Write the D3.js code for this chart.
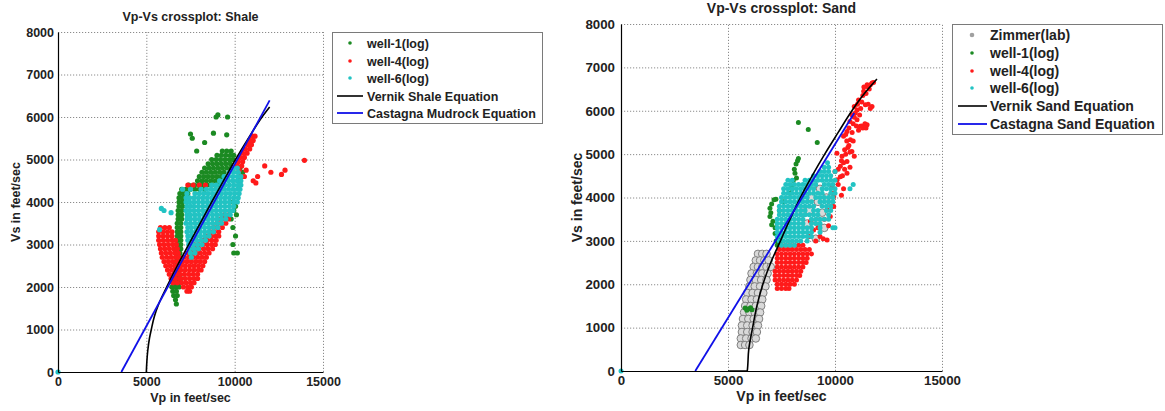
<!DOCTYPE html>
<html><head><meta charset="utf-8">
<script src="https://cdn.jsdelivr.net/npm/d3@7"></script>
<style>
body{margin:0;background:#fff;}
text{font-family:"Liberation Sans",Arial,sans-serif;font-weight:bold;fill:#222;}
</style>
</head><body>
<svg id="c" width="1165" height="411"></svg>
<script>
// ---------- axes ----------
const xTicks = [0, 5000, 10000, 15000];
const yTicks = [0, 1000, 2000, 3000, 4000, 5000, 6000, 7000, 8000];

// ---------- SHALE panel data (Vp, Vs in ft/s) ----------
// rows: [Vs, Vp, Vp, ...]
const shaleWell1Rows = [
 [5200, 9300, 9550, 9800],
 [5100, 9000, 9250, 9500, 9750, 9950],
 [5000, 8700, 8950, 9200, 9450, 9700, 9900],
 [4900, 8500, 8750, 9000, 9250, 9500, 9750],
 [4800, 8300, 8550, 8800, 9050, 9300, 9550, 9800, 10300],
 [4700, 8150, 8400, 8650, 8900, 9150, 9400, 10450],
 [4600, 8000, 8250, 8500, 8750, 9000, 9250, 10350],
 [4500, 7900, 8150, 8400, 8650, 8900, 9150, 10250],
 [4400, 7400, 7700, 7950, 8200, 8450, 8700, 9000],
 [4300, 7000, 7250, 7500, 7750, 8000, 8300],
 [4200, 6900, 7100, 7350],
 [4100, 6850, 7050],
 [4000, 6850, 7050, 9900],
 [3900, 6850, 7050, 10050],
 [3800, 6800, 7000, 9950],
 [3700, 6800, 7000, 10100],
 [3600, 6800, 7000, 9800],
 [3500, 6750, 6950],
 [3400, 6750, 6950, 9900],
 [3300, 6750, 6950],
 [3200, 6750, 6950, 10050],
 [3100, 6750, 6950],
 [3000, 6750, 6950, 9900],
 [2900, 6750, 6950],
 [2800, 6700, 6900, 9950, 10150],
 [2700, 6700, 6900],
 [2600, 6700, 6900],
 [2500, 6650, 6850],
 [2400, 6650, 6850],
 [2300, 6600, 6800],
 [2200, 6550, 6750, 6950],
 [2100, 6500, 6700, 6900],
 [2000, 6450, 6650, 6850],
 [1900, 6500, 6700],
 [1800, 6550, 6750],
 [1700, 6650],
 [1600, 6700]
];
const shaleWell1Pts = [[7500,5600],[7600,5500],[7850,5200],[8800,5620],[8950,6000],[9050,6050],[9600,6000],[9550,5580],[8300,5400]];

const shaleWell4Rows = [
 [5550, 11000, 11150],
 [5450, 10850, 11050],
 [5350, 10750, 10950],
 [5250, 10600, 10850],
 [5150, 10450, 10700],
 [5050, 10300, 10550],
 [4950, 10200, 10450],
 [4850, 10150, 10400],
 [4750, 10250],
 [4400, 7350, 7650, 8000, 8350],
 [3700, 9400, 9650],
 [3600, 9200, 9450, 9650],
 [3500, 9000, 9250, 9500],
 [3400, 5800, 6050, 6300, 8800, 9050, 9300],
 [3300, 5700, 5950, 6200, 6450, 8600, 8850, 9100],
 [3200, 5700, 5950, 6200, 6450, 8400, 8650, 8900, 9100],
 [3100, 5700, 5950, 6200, 6450, 6650, 8200, 8450, 8700, 8950],
 [3000, 5750, 6000, 6250, 6500, 6700, 7700, 7950, 8200, 8450, 8700, 8900],
 [2900, 5800, 6050, 6300, 6550, 6750, 7500, 7750, 8000, 8250, 8500, 8750],
 [2800, 5850, 6100, 6350, 6600, 6800, 7300, 7550, 7800, 8050, 8300, 8550],
 [2700, 5900, 6150, 6400, 6650, 6850, 7150, 7400, 7650, 7900, 8150, 8400],
 [2600, 6000, 6250, 6500, 6750, 7050, 7300, 7550, 7800, 8050, 8300],
 [2500, 6100, 6350, 6600, 6850, 6950, 7200, 7450, 7700, 7950, 8200],
 [2400, 6200, 6450, 6700, 6950, 7200, 7450, 7700, 7950, 8100],
 [2300, 6300, 6550, 6800, 6900, 7150, 7400, 7650, 7900],
 [2200, 6400, 6650, 6900, 6950, 7200, 7450, 7700, 7900],
 [2100, 6500, 6750, 7000, 7250, 7500, 7700],
 [2000, 7100, 7350, 7550],
 [1900, 7300, 7450]
];
const shaleWell4Pts = [[10650,4750],[11050,4500],[11300,4600],[11700,4850],[12050,4700],[12650,4650],[12850,4750],[13950,4980],[10300,4600],[10550,4600],[11200,4450]];

const shaleWell6Rows = [
 [4800, 9900, 10150],
 [4700, 9700, 9950, 10200],
 [4600, 9400, 9650, 9900, 10150, 10350],
 [4500, 9150, 9400, 9650, 9900, 10150, 10350],
 [4400, 8700, 8950, 9200, 9450, 9700, 9950, 10200, 10350],
 [4300, 7500, 8100, 8400, 8650, 8900, 9150, 9400, 9650, 9900, 10150, 10300],
 [4200, 7300, 7750, 8000, 8250, 8500, 8750, 9000, 9250, 9500, 9750, 10000, 10250],
 [4100, 7250, 7450, 7700, 7950, 8200, 8450, 8700, 8950, 9200, 9450, 9700, 9950, 10200],
 [4000, 7250, 7450, 7700, 7950, 8200, 8450, 8700, 8950, 9200, 9450, 9700, 9950, 10150],
 [3900, 7300, 7500, 7700, 7950, 8200, 8450, 8700, 8950, 9200, 9450, 9700, 9950],
 [3800, 7250, 7450, 7700, 7950, 8200, 8450, 8700, 8950, 9200, 9450, 9700, 9900],
 [3700, 7300, 7500, 7750, 8000, 8250, 8500, 8750, 9000, 9250, 9500, 9750],
 [3600, 7300, 7500, 7750, 8000, 8250, 8500, 8750, 9000, 9250, 9500],
 [3500, 7250, 7500, 7750, 8000, 8250, 8500, 8750, 9000, 9250],
 [3400, 7350, 7550, 7800, 8050, 8300, 8550, 8800, 9050],
 [3300, 7300, 7550, 7800, 8050, 8300, 8550, 8800],
 [3200, 7350, 7550, 7800, 8050, 8300, 8550],
 [3100, 7350, 7600, 7850, 8100, 8350],
 [3000, 7400, 7650, 7900, 8150],
 [2900, 7450, 7700, 7950],
 [2800, 7500, 7750],
 [2700, 7550]
];
const shaleWell6Pts = [[5850,3850],[6000,3800],[5750,3350],[6400,3750],[7050,4300],[0,0]];

const vernikShale = [[5000,0],[5030,250],[5080,500],[5180,800],[5280,1000],[5450,1300],[5700,1600],[6150,2000],[6750,2500],[7400,3000],[8050,3500],[8700,4000],[9370,4500],[10050,5000],[10780,5500],[11550,6000],[11980,6235]];
const castagnaMudrock = [[3585,0],[11980,6390]];

// ---------- SAND panel data ----------
const zimmerRows = [
 [2700, 6400, 6600, 6800],
 [2550, 6300, 6500, 6700, 6900],
 [2400, 6200, 6400, 6600, 6800, 7000],
 [2250, 6100, 6350, 6600, 6850],
 [2100, 6050, 6300, 6550, 6800],
 [1950, 6000, 6250, 6500, 6750],
 [1800, 5900, 6150, 6400, 6650],
 [1650, 5850, 6100, 6350, 6600],
 [1500, 5800, 6050, 6300, 6550],
 [1350, 5750, 6000, 6250, 6500],
 [1200, 5700, 5950, 6200, 6450],
 [1050, 5650, 5900, 6150, 6400],
 [900, 5650, 5900, 6150, 6350],
 [750, 5600, 5850, 6100, 6300],
 [600, 5600, 5800, 6000]
];
const zimmerPts = [[8500,3650],[8900,4000],[9200,3900],[9400,3650],[9100,3050],[9500,3300],[9800,3900],[8700,3400],[9000,4300],[9300,4200],[9600,4000],[8800,3700],[9150,3450]];

const sandWell1Pts = [[8290,5730],[8750,5570],[9170,5270],[8290,4900],[8180,4770],[8130,4560],[8050,4390],[7980,4250],[7900,4100],[7240,3960],[7040,3850],[6960,3750],[6960,3560],[7040,3370],[7200,3170],[7350,3060],[7150,3950],[7000,3650],[7100,3450],[7200,3300],[7300,3150],[7250,3000],[7350,2950],[7450,2900],[7400,3050],[7500,3000],[7300,2900],[7450,3100],[5800,1450],[5950,1430],[6050,1460],[6120,1410],[5880,1400],[8100,4650],[8250,4850],[8200,4450],[8000,4200],[7600,3900],[7400,3700]];

const sandWell4Rows = [
 [2900, 7500, 7700, 7900, 8100, 8300, 8500],
 [2800, 7400, 7600, 7800, 8000, 8200, 8400, 8600, 8800],
 [2700, 7300, 7500, 7700, 7900, 8100, 8300, 8500, 8700, 8900],
 [2600, 7300, 7500, 7700, 7900, 8100, 8300, 8500, 8700],
 [2500, 7300, 7500, 7700, 7900, 8100, 8300, 8500, 8650],
 [2400, 7300, 7500, 7700, 7900, 8100, 8300, 8500],
 [2300, 7200, 7400, 7600, 7800, 8000, 8200, 8400],
 [2200, 7200, 7400, 7600, 7800, 8000, 8200, 8350],
 [2100, 7200, 7400, 7600, 7800, 8000, 8200],
 [2000, 7300, 7500, 7700, 7900, 8100],
 [1900, 7300, 7500, 7700, 7850]
];
const sandWell4Pts = [[8850,3450],[9000,3250],[9300,3100],[9630,3020],[9450,3050],[9860,4250],[10100,4410],[10250,4480],[9940,4020],[9630,3720],[9780,3560],[9940,3790],[10150,4300],[10400,4200],[10300,4050],[10560,4830],[10790,5060],[10720,5330],[10560,5520],[11180,5640],[11500,5680],[11030,5790],[11030,6020],[11420,6140],[11730,6100],[11340,6450],[11500,6600],[11730,6640],[10790,5910],[10400,5410],[10090,5020],[10330,4950],[10250,4720],[10560,4560],[10900,6100],[11100,6250],[11250,5650],[11400,5700],[10650,5200],[10500,5000],[10800,5500],[11200,6050],[11600,6500],[10950,5950],[10700,4700],[10450,4650],[10350,4500],[9700,3350],[9500,3500],[9200,3300],[9100,3000],[8800,3100],[9900,4100],
 [10000,4600],[10150,4650],[10400,4800],[10300,4850],[10450,5100],[10600,5150],[10550,5300],[10500,5450],[10650,5600],[10700,5750],[10850,5700],[11000,5650],[11100,5550],[11300,5600],[11450,5600],[10900,5850],[11150,5900],[11050,6150],[11250,6200],[11550,6150],[11650,6050],[11300,6350],[11450,6400],[11550,6550],[11650,6600],[11800,6650],[11350,6550],[10850,5300],[10700,5050],[10900,4950]];

const sandWell6Rows = [
 [4700, 9500, 9700],
 [4600, 9300, 9500, 9700, 10000],
 [4500, 9000, 9200, 9400, 9600, 9800],
 [4400, 7800, 8000, 8600, 8800, 9000, 9200, 9400, 9600, 9800, 10000],
 [4300, 7700, 7900, 8100, 8300, 8500, 8700, 8900, 9100, 9500, 9700, 9900],
 [4200, 7600, 7800, 8000, 8200, 8400, 8600, 8800, 9000, 9400, 9600, 9800, 10000],
 [4100, 7600, 7800, 8000, 8200, 8400, 8600, 8800, 9000, 9200, 9400, 9800, 10000],
 [4000, 7500, 7700, 7900, 8100, 8300, 8500, 8700, 9100, 9300, 9500, 9700, 9900],
 [3900, 7500, 7700, 7900, 8100, 8300, 8500, 8700, 8900, 9300, 9500, 9700, 9900],
 [3800, 7400, 7600, 7800, 8000, 8200, 8400, 8600, 8800, 9000, 9400, 9600, 9800],
 [3700, 7400, 7600, 7800, 8000, 8200, 8400, 8600, 9000, 9200, 9600, 9800],
 [3600, 7400, 7600, 7800, 8000, 8200, 8400, 8600, 8800, 9000, 9200, 9700],
 [3500, 7300, 7500, 7700, 7900, 8100, 8300, 8500, 8900, 9100, 9300, 9500, 9700],
 [3400, 7300, 7500, 7700, 7900, 8100, 8300, 8500, 8900, 9100, 9300],
 [3300, 7300, 7500, 7700, 7900, 8100, 8300, 8500, 8700, 8900, 9300, 9900],
 [3200, 7300, 7500, 7700, 7900, 8100, 8300, 8500, 8700, 8900, 9300],
 [3100, 7300, 7500, 7700, 7900, 8100, 8300, 8500, 8700, 8900],
 [3000, 7400, 7600, 7800, 8000, 8200, 8400, 8700],
 [2900, 7500, 7700, 7900, 8100]
];
const sandWell6Pts = [[10700,4200],[10850,4300],[10000,3300],[9650,4800],[0,0]];

const vernikSand = [[5000,0],[5900,0],[5970,500],[6150,1000],[6350,1500],[6630,2000],[7000,2500],[7450,3000],[7900,3500],[8380,4000],[8930,4500],[9520,5000],[10150,5500],[10790,6000],[11300,6350],[11960,6730]];
const castagnaSand = [[3470,0],[10900,5950]];

// ---------- legends ----------
const shaleLegend = ["well-1(log)", "well-4(log)", "well-6(log)", "Vernik Shale Equation", "Castagna Mudrock Equation"];
const sandLegend = ["Zimmer(lab)", "well-1(log)", "well-4(log)", "well-6(log)", "Vernik Sand Equation", "Castagna Sand Equation"];

const C = {g:"#1b8a22", r:"#ff1a1a", c:"#22c3c3", k:"#000", b:"#1010e8", gray:"#808080"};

// ----------------------------------------------------------
const svg = d3.select("#c");
function expand(rows){const o=[];rows.forEach(r=>{for(let i=1;i<r.length;i++)o.push([r[i],r[0]]);});return o;}

function panel(cfg){
  const x = d3.scaleLinear().domain([0,15000]).range([cfg.x0,cfg.x1]);
  const y = d3.scaleLinear().domain([0,8000]).range([cfg.y1,cfg.y0]);
  const g = svg.append("g");
  const H = cfg.y1-cfg.y0, W = cfg.x1-cfg.x0;
  // grid
  const gx = g.append("g").attr("transform",`translate(0,${cfg.y1})`)
    .call(d3.axisBottom(x).tickValues(xTicks.slice(1)).tickSize(-H).tickFormat(""));
  const gy = g.append("g").attr("transform",`translate(${cfg.x0},0)`)
    .call(d3.axisLeft(y).tickValues(yTicks.slice(1)).tickSize(-W).tickFormat(""));
  [gx,gy].forEach(a=>{a.select(".domain").remove();
    a.selectAll("line").attr("stroke","#8c8c8c").attr("stroke-dasharray","1.2,1.8").attr("stroke-width",1);});

  // scatter
  const pts = g.append("g");
  cfg.series.forEach(s=>{
    pts.append("g").selectAll("circle").data(s.data).join("circle")
      .attr("cx",d=>x(d[0])).attr("cy",d=>y(d[1])).attr("r",s.r)
      .attr("fill",s.fill).attr("stroke",s.stroke||"none").attr("stroke-width",s.sw||0);
  });
  // curves
  cfg.lines.forEach(l=>{
    g.append("path").datum(l.data)
      .attr("d",d3.line().x(d=>x(d[0])).y(d=>y(d[1])).curve(d3.curveMonotoneY))
      .attr("fill","none").attr("stroke",l.color).attr("stroke-width",l.w);
  });

  // axes
  const ax = g.append("g").attr("transform",`translate(0,${cfg.y1})`)
    .call(d3.axisBottom(x).tickValues(xTicks).tickSize(0).tickPadding(5).tickFormat(d3.format("d")));
  const ay = g.append("g").attr("transform",`translate(${cfg.x0},0)`)
    .call(d3.axisLeft(y).tickValues(yTicks).tickSize(0).tickPadding(cfg.yPad).tickFormat(d3.format("d")));
  [ax,ay].forEach(a=>{a.select(".domain").attr("stroke","#000").attr("stroke-width",1.2);
    a.selectAll("text").style("font-size",cfg.tickFs+"px").style("font-family",'"Liberation Sans",Arial,sans-serif').style("font-weight","bold").attr("fill","#222");});

  // title & labels
  g.append("text").attr("x",(cfg.x0+cfg.x1)/2).attr("y",cfg.titleY).attr("text-anchor","middle")
    .style("font-size",cfg.fs+"px").text(cfg.title);
  g.append("text").attr("x",(cfg.x0+cfg.x1)/2).attr("y",cfg.xlabY).attr("text-anchor","middle")
    .style("font-size",cfg.fs+"px").text("Vp in feet/sec");
  g.append("text").attr("transform",`translate(${cfg.ylabX},${(cfg.y0+cfg.y1)/2}) rotate(-90)`).attr("text-anchor","middle")
    .attr("dy","0.35em").style("font-size",cfg.fs+"px").text("Vs in feet/sec");

  // legend
  const L = cfg.legend;
  const lg = g.append("g");
  lg.append("rect").attr("x",L.x).attr("y",L.y).attr("width",L.w).attr("height",L.h)
    .attr("fill","#fff").attr("stroke","#7a7a7a").attr("stroke-width",1);
  L.items.forEach((it,i)=>{
    const yy = L.ys[i];
    if(it.type==="dot"){
      lg.append("circle").attr("cx",L.mx).attr("cy",yy).attr("r",it.r||1.8).attr("fill",it.color);
    } else {
      lg.append("line").attr("x1",L.lx0).attr("x2",L.lx1).attr("y1",yy).attr("y2",yy)
        .attr("stroke",it.color).attr("stroke-width",it.w);
    }
    lg.append("text").attr("x",L.tx).attr("y",yy).attr("dy","0.36em").style("font-size",L.fs+"px").text(it.label);
  });
}

panel({
  x0:58, x1:323, y0:32, y1:372, yPad:4, tickFs:12.5, fs:12.5,
  title:"Vp-Vs crossplot: Shale", titleY:21, xlabY:402, ylabX:16,
  series:[
    {data:expand(shaleWell1Rows).concat(shaleWell1Pts), r:2.6, fill:C.g},
    {data:expand(shaleWell4Rows).concat(shaleWell4Pts), r:2.6, fill:C.r},
    {data:expand(shaleWell6Rows).concat(shaleWell6Pts), r:2.6, fill:C.c}
  ],
  lines:[{data:vernikShale,color:C.k,w:1.6},{data:castagnaMudrock,color:C.b,w:1.8}],
  legend:{x:332.5,y:32.5,w:210,h:91,mx:350,lx0:337,lx1:363,tx:367,fs:12.5,ys:[43,61,78,96,113],
    items:[{type:"dot",color:C.g,label:shaleLegend[0]},{type:"dot",color:C.r,label:shaleLegend[1]},
           {type:"dot",color:C.c,label:shaleLegend[2]},{type:"line",color:C.k,w:1.6,label:shaleLegend[3]},
           {type:"line",color:C.b,w:1.8,label:shaleLegend[4]}]}
});

panel({
  x0:621, x1:942, y0:24, y1:371, yPad:6, tickFs:13.3, fs:14,
  title:"Vp-Vs crossplot: Sand", titleY:13, xlabY:401, ylabX:577,
  series:[
    {data:expand(zimmerRows).concat(zimmerPts), r:3.8, fill:"#d9d9d9", stroke:C.gray, sw:1},
    {data:sandWell1Pts, r:2.5, fill:C.g},
    {data:expand(sandWell4Rows).concat(sandWell4Pts), r:2.5, fill:C.r},
    {data:expand(sandWell6Rows).concat(sandWell6Pts), r:2.5, fill:C.c}
  ],
  lines:[{data:vernikSand,color:C.k,w:1.6},{data:castagnaSand,color:C.b,w:1.8}],
  legend:{x:952.5,y:24.5,w:210,h:110,mx:972,lx0:958,lx1:987,tx:990,fs:14,ys:[35,53,71,88,106,124],
    items:[{type:"dot",color:"#a0a0a0",r:2.3,label:sandLegend[0]},{type:"dot",color:C.g,label:sandLegend[1]},
           {type:"dot",color:C.r,label:sandLegend[2]},{type:"dot",color:C.c,label:sandLegend[3]},
           {type:"line",color:C.k,w:1.6,label:sandLegend[4]},{type:"line",color:C.b,w:1.8,label:sandLegend[5]}]}
});
</script>
</body></html>
